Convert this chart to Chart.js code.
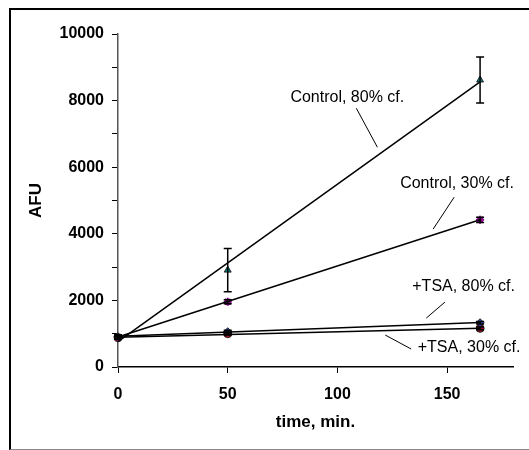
<!DOCTYPE html>
<html>
<head>
<meta charset="utf-8">
<script src="https://cdn.jsdelivr.net/npm/chart.js@4.4.0/dist/chart.umd.min.js"></script>
<style>
  html, body { margin: 0; padding: 0; background: #fff; overflow: hidden; }
  #frame { position: absolute; left: 9px; top: 8px; width: 540px; height: 442px; box-sizing: border-box; border-left: 2.5px solid #000; border-top: 2px solid #000; border-bottom: 1.5px solid #888; }
  #chart { position: absolute; left: 0; top: 0; }
</style>
</head>
<body>
<div id="frame"></div>
<canvas id="chart" width="529" height="450"></canvas>
<script>
// measured points
const times = [0, 50, 165];
const control80 = [900, 2910, 8620];
const control80Err = [60, 650, 690];
const control30 = [900, 1960, 4420];
const control30Err = [60, 60, 80];
const tsa80 = [910, 1060, 1330];
const tsa80Err = [40, 40, 40];
const tsa30 = [880, 1000, 1160];
const tsa30Err = [40, 40, 40];

// trend lines (start and end)
const fitTimes = [0, 165];
const control80Fit = [760, 8560];
const control30Fit = [900, 4420];
const tsa80Fit = [920, 1335];
const tsa30Fit = [895, 1165];

const xTicks = [0, 50, 100, 150];
const yTicks = [0, 1000, 2000, 3000, 4000, 5000, 6000, 7000, 8000, 9000, 10000];

// labels with leader lines, in data units
const labels = [
    { text: 'Control, 80% cf.', x: 104.5, y: 8100, from: [108.6, 7770], to: [118.2, 6600] },
    { text: 'Control, 30% cf.', x: 154.5, y: 5520, from: [153.2, 5100], to: [143.6, 4140] },
    { text: '+TSA, 80% cf.', x: 157.5, y: 2400, from: [149, 1950], to: [140.5, 1470] },
    { text: '+TSA, 30% cf.', x: 160, y: 570, from: [121.8, 960], to: [133.6, 540] }
];

function toPoints(xs, ys) {
    return xs.map((x, i) => ({ x: x, y: ys[i] }));
}

function pointSet(ys, errs, color, style) {
    return {
        data: toPoints(times, ys),
        errors: errs,
        showLine: false,
        pointStyle: style,
        pointRadius: 4,
        pointBackgroundColor: color,
        pointBorderColor: style === 'star' ? color : '#222',
        pointBorderWidth: style === 'star' ? 2 : 1,
        clip: false
    };
}

function fitSet(ys) {
    return {
        data: toPoints(fitTimes, ys),
        showLine: true,
        borderColor: '#000',
        borderWidth: 1.5,
        pointRadius: 0,
        clip: false
    };
}

const errorBars = {
    id: 'errorBars',
    afterDatasetsDraw(chart) {
        const ctx = chart.ctx;
        const xs = chart.scales.x, ys = chart.scales.y;
        ctx.save();
        ctx.strokeStyle = '#000';
        ctx.lineWidth = 1.5;
        chart.data.datasets.forEach(ds => {
            if (!ds.errors) return;
            ds.data.forEach((p, i) => {
                const e = ds.errors[i];
                const px = xs.getPixelForValue(p.x);
                const top = ys.getPixelForValue(p.y + e);
                const bot = ys.getPixelForValue(p.y - e);
                ctx.beginPath();
                ctx.moveTo(px, top); ctx.lineTo(px, bot);
                ctx.moveTo(px - 4, top); ctx.lineTo(px + 4, top);
                ctx.moveTo(px - 4, bot); ctx.lineTo(px + 4, bot);
                ctx.stroke();
            });
        });
        ctx.restore();
    },
    afterDraw(chart) {
        const ctx = chart.ctx;
        const xs = chart.scales.x, ys = chart.scales.y;
        ctx.save();
        ctx.fillStyle = '#000';
        ctx.strokeStyle = '#000';
        ctx.lineWidth = 1;
        ctx.font = '16px "Liberation Sans", Arial, sans-serif';
        ctx.textAlign = 'center';
        ctx.textBaseline = 'middle';
        labels.forEach(l => {
            ctx.fillText(l.text, xs.getPixelForValue(l.x), ys.getPixelForValue(l.y));
            ctx.beginPath();
            ctx.moveTo(xs.getPixelForValue(l.from[0]), ys.getPixelForValue(l.from[1]));
            ctx.lineTo(xs.getPixelForValue(l.to[0]), ys.getPixelForValue(l.to[1]));
            ctx.stroke();
        });
        ctx.restore();
    }
};

const tickFont = { family: '"Liberation Sans", Arial, sans-serif', size: 16, weight: 'bold' };
const titleFont = { family: '"Liberation Sans", Arial, sans-serif', size: 17, weight: 'bold' };

new Chart(document.getElementById('chart'), {
    type: 'scatter',
    data: {
        datasets: [
            fitSet(control80Fit),
            fitSet(control30Fit),
            fitSet(tsa80Fit),
            fitSet(tsa30Fit),
            pointSet(control80, control80Err, '#008080', 'triangle'),
            pointSet(control30, control30Err, '#800080', 'star'),
            pointSet(tsa80, tsa80Err, '#2050c0', 'rectRot'),
            pointSet(tsa30, tsa30Err, '#a01020', 'circle')
        ]
    },
    options: {
        responsive: false,
        animation: false,
        layout: { padding: { left: 10, right: 16, top: 34, bottom: 0 } },
        plugins: { legend: { display: false }, tooltip: { enabled: false } },
        scales: {
            x: {
                type: 'linear',
                min: 0,
                max: 180,
                afterBuildTicks: scale => { scale.ticks = xTicks.map(v => ({ value: v })); },
                afterFit: scale => { scale.height = 83; },
                border: { color: '#000', width: 1.5 },
                grid: { drawOnChartArea: false, drawTicks: true, tickLength: 6, color: '#000' },
                ticks: { color: '#000', font: tickFont, padding: 12 },
                title: { display: true, text: 'time, min.', color: '#000', font: titleFont, padding: { top: 8, bottom: 17 } }
            },
            y: {
                type: 'linear',
                min: 0,
                max: 10000,
                afterBuildTicks: scale => { scale.ticks = yTicks.map(v => ({ value: v })); },
                afterFit: scale => { scale.width = 108; },
                border: { color: '#555', width: 1.5 },
                grid: { drawOnChartArea: false, drawTicks: true, tickLength: 6, color: '#000' },
                ticks: {
                    color: '#000',
                    font: tickFont,
                    padding: 8,
                    callback: v => (v % 2000 === 0 ? v : '')
                },
                title: { display: true, text: 'AFU', color: '#000', font: titleFont, padding: { top: 16 } }
            }
        }
    },
    plugins: [errorBars]
});
</script>
</body>
</html>
